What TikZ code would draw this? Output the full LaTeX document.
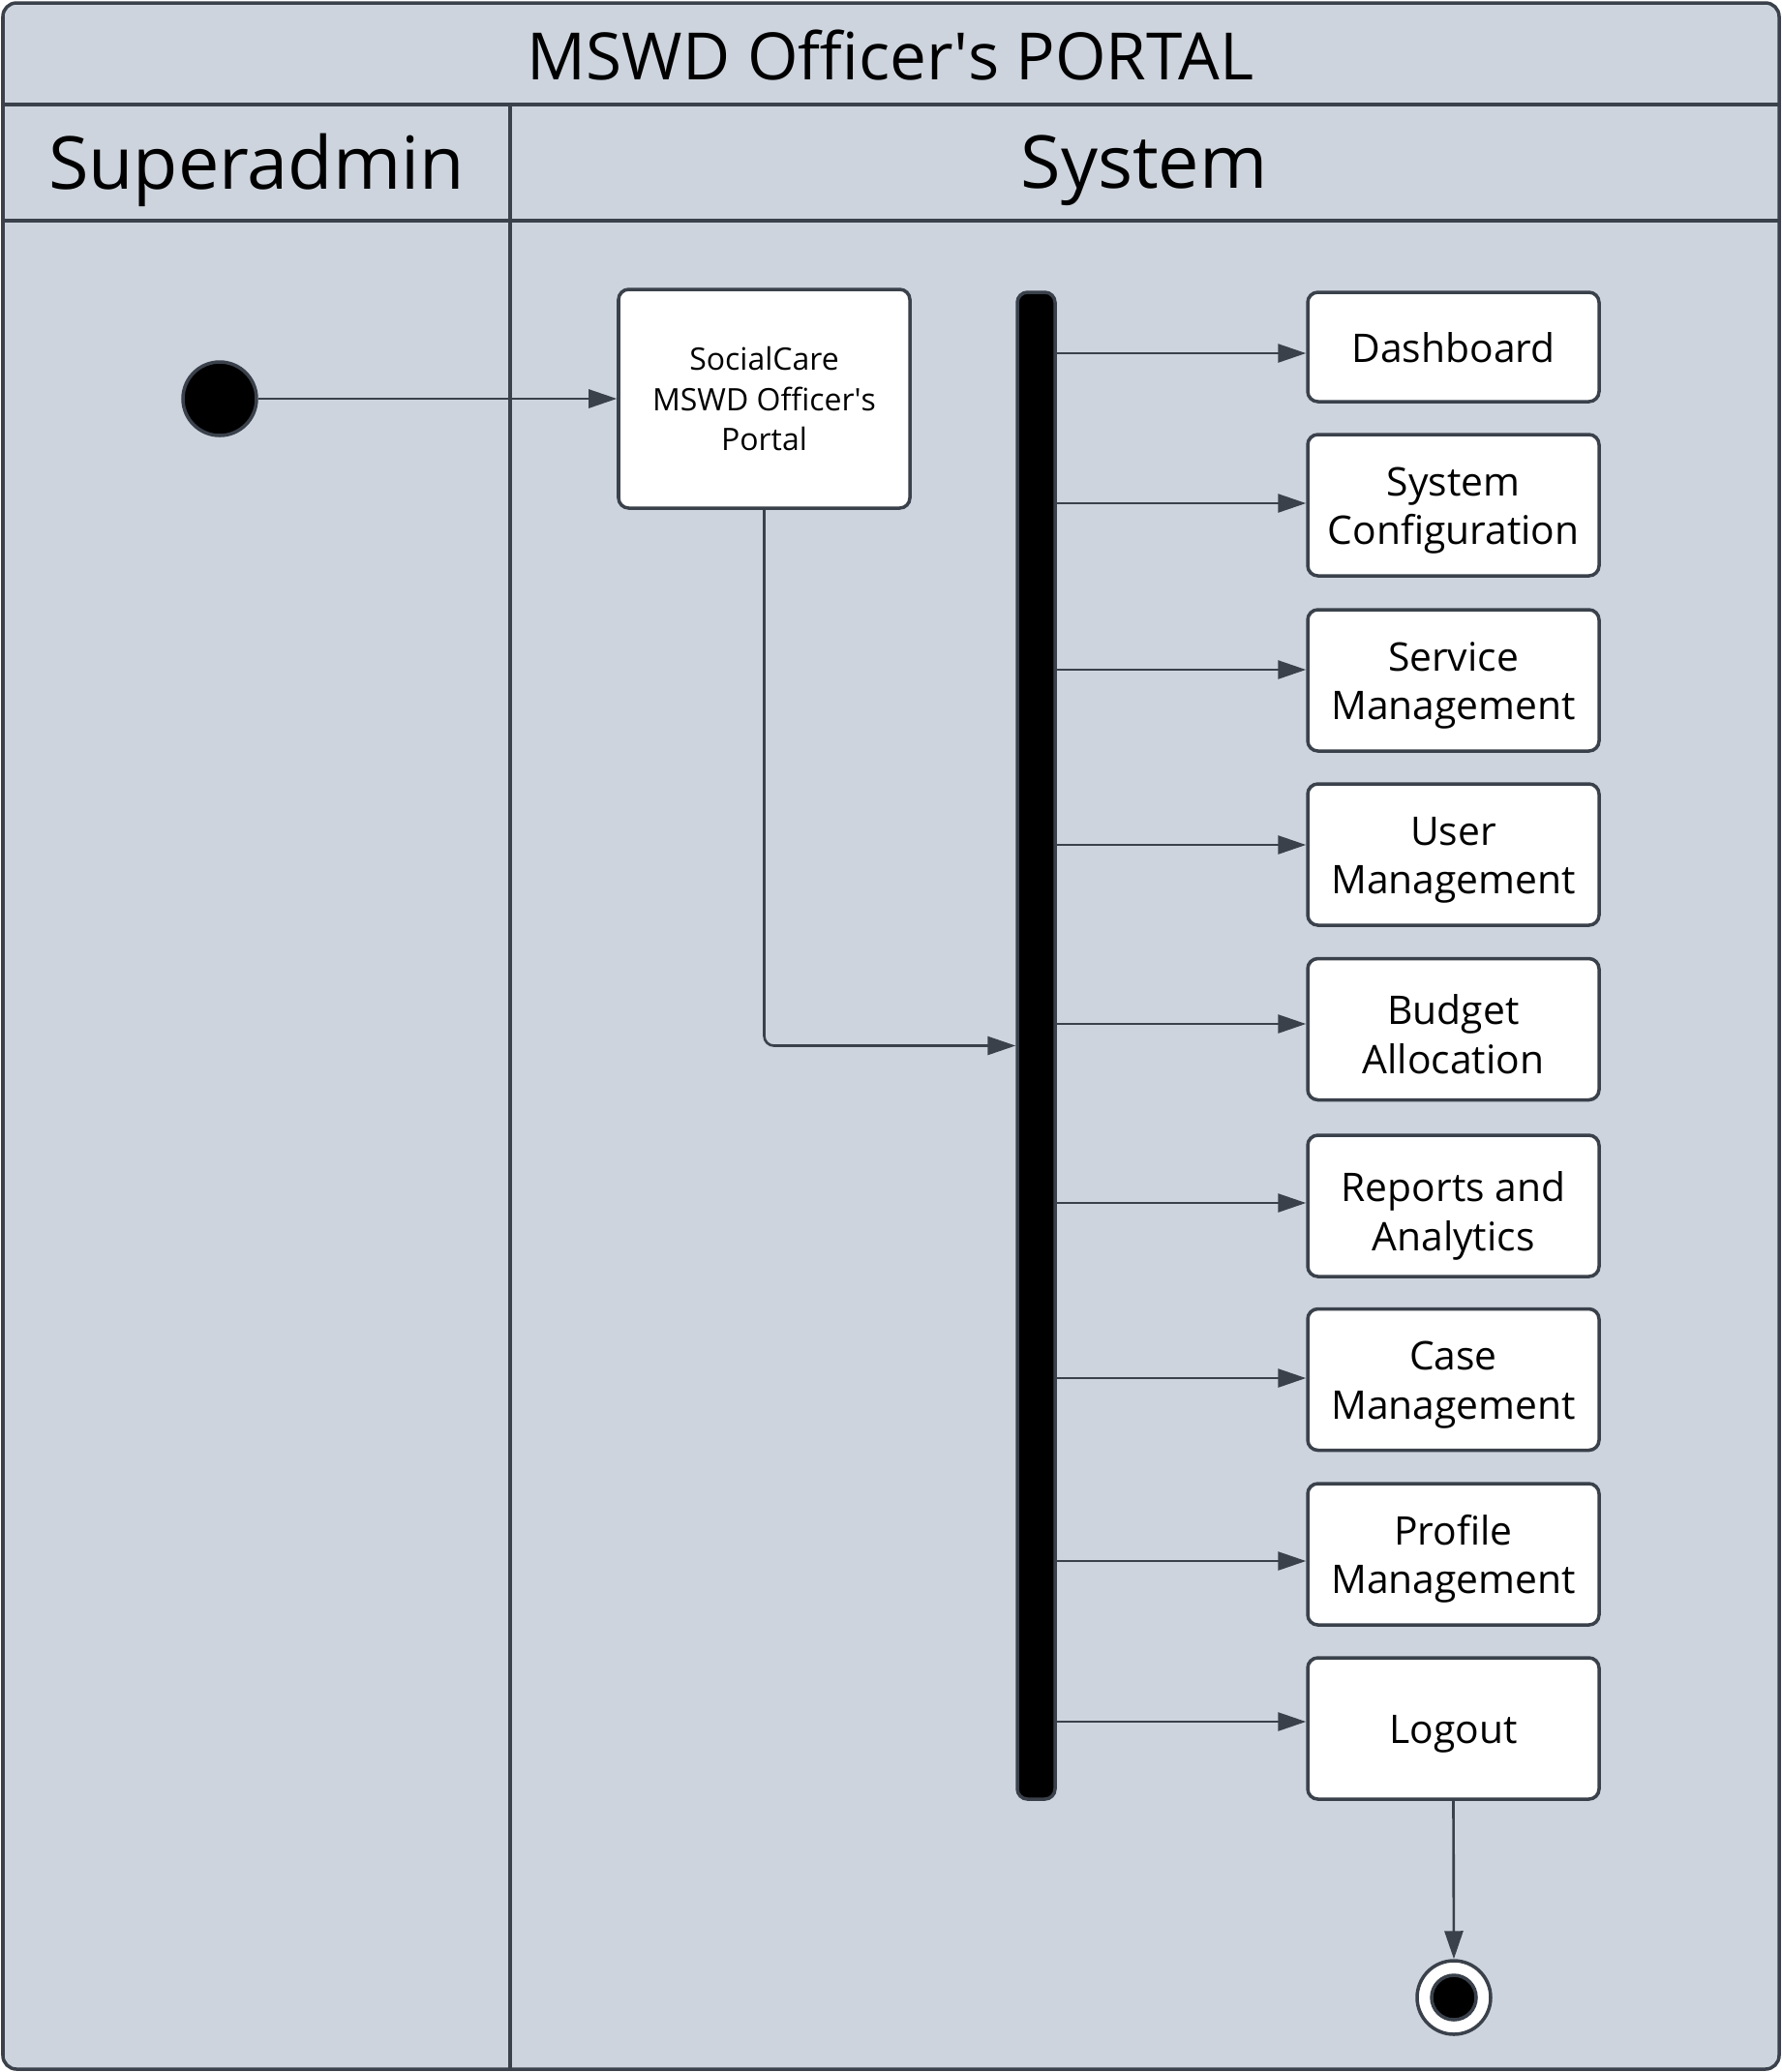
\documentclass[tikz,border=0pt]{standalone}
\usepackage{fontspec}
\setmainfont{Open Sans}
\usetikzlibrary{arrows.meta}
\definecolor{lanebg}{RGB}{205,212,221}
\definecolor{edge}{RGB}{58,65,75}
\tikzset{
  box/.style={draw=edge, line width=1pt, fill=white, rounded corners=3pt, minimum width=3.01cm, minimum height=1.46cm, align=center, font=\fontsize{11.6}{14.5}\selectfont},
  act/.style={box, execute at begin node={\rule{0pt}{#1}}, execute at end node={\rule[-0.26em]{0pt}{0pt}}},
  act/.default=2.27em,
  flow/.style={draw=edge, line width=0.75pt, -{Triangle[length=0.29cm,width=0.19cm]}},
  lane/.style={draw=edge, line width=1pt},
}
\begin{document}
\begin{tikzpicture}
\useasboundingbox (0,0) rectangle (18.41,-21.41);
% swimlanes
\path[lane, fill=lanebg, rounded corners=4pt] (0.03,-0.03) rectangle (18.38,-21.38);
\path[lane] (0.03,-1.08) -- (18.38,-1.08);
\path[lane] (0.03,-2.28) -- (18.38,-2.28);
\path[lane] (5.27,-1.08) -- (5.27,-21.38);
\node[font=\fontsize{19.2}{22}\selectfont] (title) at (9.2,-0.57) {MSWD Officer\textquotesingle s PORTAL};
\node[font=\fontsize{21.5}{24}\selectfont] (superadmin) at (2.65,-1.76) {Superadmin};
\node[font=\fontsize{21.5}{24}\selectfont] (system) at (11.82,-1.76) {System};

% start, portal, fork bar
\node[draw=edge, circle, fill=black, line width=1pt, minimum size=0.76cm, inner sep=0pt] (start) at (2.27,-4.12) {};
\node[box, minimum height=2.26cm, font=\fontsize{9.1}{11.7}\selectfont] (portal) at (7.895,-4.12) {SocialCare\\MSWD Officer\textquotesingle s\\Portal};
\node[draw=edge, fill=black, line width=1pt, rounded corners=3pt, minimum width=0.39cm, minimum height=15.57cm, inner sep=0pt] (bar) at (10.705,-10.805) {};

% activities
\node[act=1.02em, minimum height=1.13cm] (dash) at (15.015,-3.585) {Dashboard};
\node[act] (config) at (15.015,-5.22) {System\\Configuration};
\node[act] (service) at (15.015,-7.03) {Service\\Management};
\node[act] (user) at (15.015,-8.83) {User\\Management};
\node[act=2.52em] (budget) at (15.015,-10.635) {Budget\\Allocation};
\node[act=2.52em] (reports) at (15.015,-12.46) {Reports and\\Analytics};
\node[act] (case) at (15.015,-14.255) {Case\\Management};
\node[act] (profile) at (15.015,-16.06) {Profile\\Management};
\node[act=1.02em] (logout) at (15.015,-17.86) {Logout};

% end
\node[draw=edge, circle, fill=white, line width=1pt, minimum size=0.76cm, inner sep=0pt] (final) at (15.02,-20.64) {};
\node[draw=edge, circle, fill=black, line width=1pt, minimum size=0.46cm, inner sep=0pt] (finaldot) at (final) {};

\path[flow] (start) -- (portal.west);
\path[flow, rounded corners=0.1cm] (portal.south) |- (bar.west);

\path[flow] (bar.east |- 0,-3.65) -- (dash.west |- 0,-3.65);
\path[flow] (bar.east |- 0,-5.2) -- (config.west |- 0,-5.2);
\path[flow] (bar.east |- 0,-6.92) -- (service.west |- 0,-6.92);
\path[flow] (bar.east |- 0,-8.73) -- (user.west |- 0,-8.73);
\path[flow] (bar.east |- 0,-10.58) -- (budget.west |- 0,-10.58);
\path[flow] (bar.east |- 0,-12.43) -- (reports.west |- 0,-12.43);
\path[flow] (bar.east |- 0,-14.24) -- (case.west |- 0,-14.24);
\path[flow] (bar.east |- 0,-16.13) -- (profile.west |- 0,-16.13);
\path[flow] (bar.east |- 0,-17.79) -- (logout.west |- 0,-17.79);

\path[flow] (logout.south) -- (final.north);
\end{tikzpicture}
\end{document}
